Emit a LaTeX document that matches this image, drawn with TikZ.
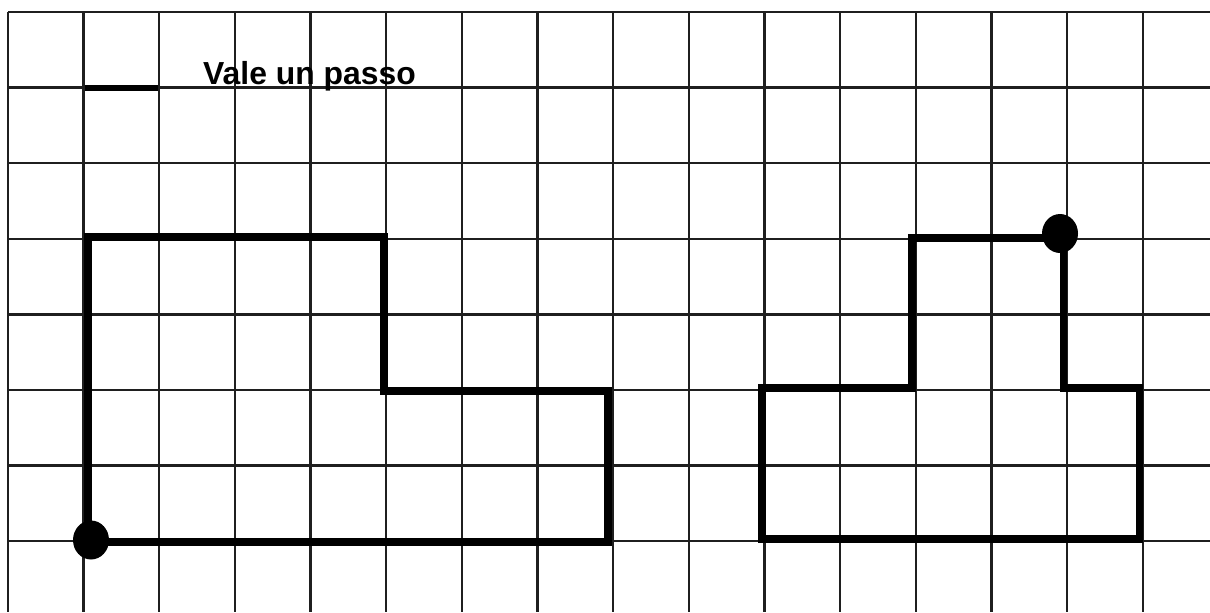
\documentclass[tikz,border=0pt]{standalone}
\usepackage{fontspec}
\setmainfont{Liberation Sans}
\usetikzlibrary{shapes.geometric}

\tikzset{
  gridline/.style = {line width=2pt, color=black!88},
  walk/.style     = {line width=6pt, line join=miter, color=black},
  dot/.style      = {ellipse, fill=black, minimum width=36*0.03cm, minimum height=39*0.03cm, inner sep=0pt},
}

\begin{document}
\begin{tikzpicture}[x=0.03cm,y=-0.03cm]
\useasboundingbox (0,0) rectangle (1210,612);

% quadretti
\foreach \i in {0,...,15}
  \draw[gridline] ({8+75.65*\i},12) -- ({8+75.65*\i},612);
\foreach \j in {0,...,7}
  \draw[gridline] (8,{12+75.6*\j}) -- (1210,{12+75.6*\j});

% legenda
\coordinate (legA) at (85,87.7);
\coordinate (legB) at (158,87.7);
\draw[line width=5pt] (legA) -- (legB);
\node[anchor=base west, inner sep=0pt, font=\fontsize{27.2}{30}\selectfont\bfseries] (legenda) at (203,84) {Vale un passo};

% primo percorso
\draw[walk] (88,542) -- (88,237) -- (384,237) -- (384,391) -- (608,391) -- (608,542) -- cycle;
\node[dot] (inizioA) at (91,540) {};

% secondo percorso
\draw[walk] (762,539) -- (762,388) -- (912,388) -- (912,238) -- (1063,238) -- (1063,388) -- (1139,388) -- (1139,539) -- cycle;
\node[dot] (inizioB) at (1060,233.5) {};
\end{tikzpicture}
\end{document}
